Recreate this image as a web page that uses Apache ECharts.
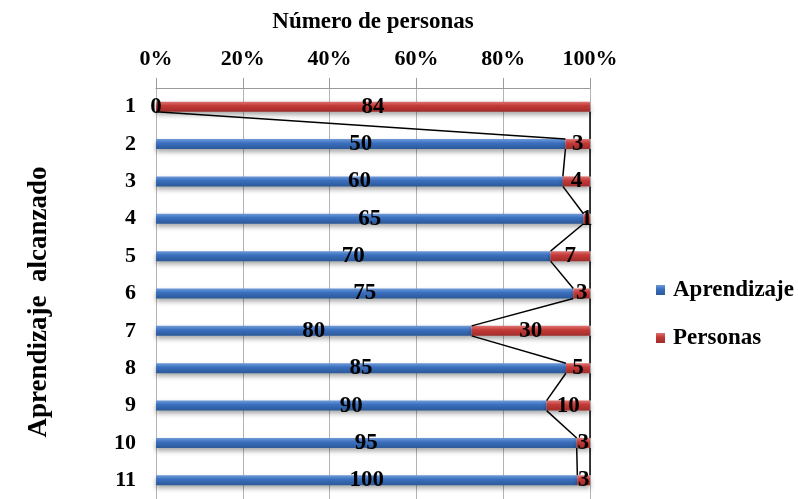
<!DOCTYPE html>
<html>
<head>
<meta charset="utf-8">
<script src="https://cdn.jsdelivr.net/npm/echarts@6/dist/echarts.min.js"></script>
<style>
  html, body { margin: 0; padding: 0; background: #fff; }
  #chart { width: 798px; height: 499px; }
</style>
</head>
<body>
<div id="chart"></div>
<script>
// Learning level reached (rows) and number of people per level
const categories = ['1', '2', '3', '4', '5', '6', '7', '8', '9', '10', '11'];
const aprendizaje = [0, 50, 60, 65, 70, 75, 80, 85, 90, 95, 100];
const personas = [84, 3, 4, 1, 7, 3, 30, 5, 10, 3, 3];
const xTicks = [0, 20, 40, 60, 80, 100];

const FONT = '"Liberation Serif", "Times New Roman", serif';
const BAR_W = 10;

// 100% stacked shares, keeping the raw value for the label
const shareA = aprendizaje.map((a, i) => ({ value: a / (a + personas[i]) * 100, raw: a }));
const shareP = personas.map((p, i) => ({ value: p / (aprendizaje[i] + p) * 100, raw: p }));

// Series lines joining segment ends of consecutive bars
const seriesLines = [];
for (let i = 0; i < categories.length - 1; i++) {
  seriesLines.push([shareA[i].value, i, shareA[i + 1].value, i + 1]);
  seriesLines.push([100, i, 100, i + 1]);
}

const labelStyle = {
  show: true,
  position: 'inside',
  color: '#000',
  fontFamily: FONT,
  fontWeight: 'bold',
  fontSize: 23,
  textBorderWidth: 0,
  formatter: p => String(p.data.raw)
};

const grad = (top, mid, bottom) => new echarts.graphic.LinearGradient(0, 0, 0, 1, [
  { offset: 0, color: top }, { offset: 0.4, color: mid }, { offset: 1, color: bottom }
]);

const chart = echarts.init(document.getElementById('chart'), null, { renderer: 'canvas' });
chart.setOption({
  animation: false,
  backgroundColor: '#fff',
  grid: { left: 156, right: 208, top: 88, bottom: 0, containLabel: false, outerBoundsMode: 'none' },
  legend: {
    orient: 'vertical',
    left: 656,
    top: 278,
    padding: 0,
    itemWidth: 9,
    itemHeight: 10,
    itemGap: 24,
    icon: 'rect',
    textStyle: {
      fontFamily: FONT, fontWeight: 'bold', fontSize: 23, lineHeight: 24, color: '#000',
      padding: [0, 0, 0, 3]
    },
    data: ['Aprendizaje', 'Personas']
  },
  graphic: [{
    type: 'text',
    x: 39,
    y: 302,
    rotation: Math.PI / 2,
    style: {
      text: 'Aprendizaje  alcanzado',
      fontFamily: FONT, fontWeight: 'bold', fontSize: 27, fill: '#000',
      align: 'center', verticalAlign: 'middle'
    }
  }],
  xAxis: {
    type: 'value',
    position: 'top',
    min: xTicks[0],
    max: xTicks[xTicks.length - 1],
    interval: 20,
    name: 'Número de personas',
    nameLocation: 'middle',
    nameGap: 54,
    nameTextStyle: { fontFamily: FONT, fontWeight: 'bold', fontSize: 23, color: '#000' },
    axisLine: { show: true, lineStyle: { color: '#9a9a9a', width: 1 } },
    axisTick: { show: true, length: 10, lineStyle: { color: '#9a9a9a' } },
    axisLabel: {
      margin: 18,
      fontFamily: FONT, fontWeight: 'bold', fontSize: 22, color: '#000',
      formatter: '{value}%'
    },
    splitLine: { show: true, lineStyle: { color: '#b4b4b4', width: 1 } }
  },
  yAxis: {
    type: 'category',
    inverse: true,
    data: categories,
    axisLine: { show: false },
    axisTick: { show: false },
    axisLabel: {
      margin: 20, padding: [6, 0, 0, 0],
      fontFamily: FONT, fontWeight: 'bold', fontSize: 22, color: '#000'
    },
    splitLine: { show: false }
  },
  series: [
    {
      name: 'Aprendizaje',
      type: 'bar',
      stack: 'total',
      barWidth: BAR_W,
      data: shareA,
      itemStyle: {
        color: grad('#6f9ad8', '#3b70bf', '#2b5897'),
        shadowColor: 'rgba(0,0,0,0.35)', shadowBlur: 5, shadowOffsetY: 3
      },
      label: labelStyle,
      z: 2
    },
    {
      name: 'Personas',
      type: 'bar',
      stack: 'total',
      barWidth: BAR_W,
      data: shareP,
      itemStyle: {
        color: grad('#dc7472', '#c43a38', '#9e2c2a'),
        shadowColor: 'rgba(0,0,0,0.35)', shadowBlur: 5, shadowOffsetY: 3
      },
      label: labelStyle,
      z: 2
    },
    {
      type: 'custom',
      silent: true,
      clip: false,
      z: 3,
      encode: { x: [0, 2], y: [1, 3] },
      data: seriesLines,
      renderItem: (params, api) => {
        const p1 = api.coord([api.value(0), api.value(1)]);
        const p2 = api.coord([api.value(2), api.value(3)]);
        const h = BAR_W / 2;
        return {
          type: 'polyline',
          shape: { points: [[p1[0], p1[1] + h], [p2[0], p2[1] - h]] },
          style: { stroke: '#000', lineWidth: 1.5, fill: null }
        };
      }
    }
  ]
});
</script>
</body>
</html>
